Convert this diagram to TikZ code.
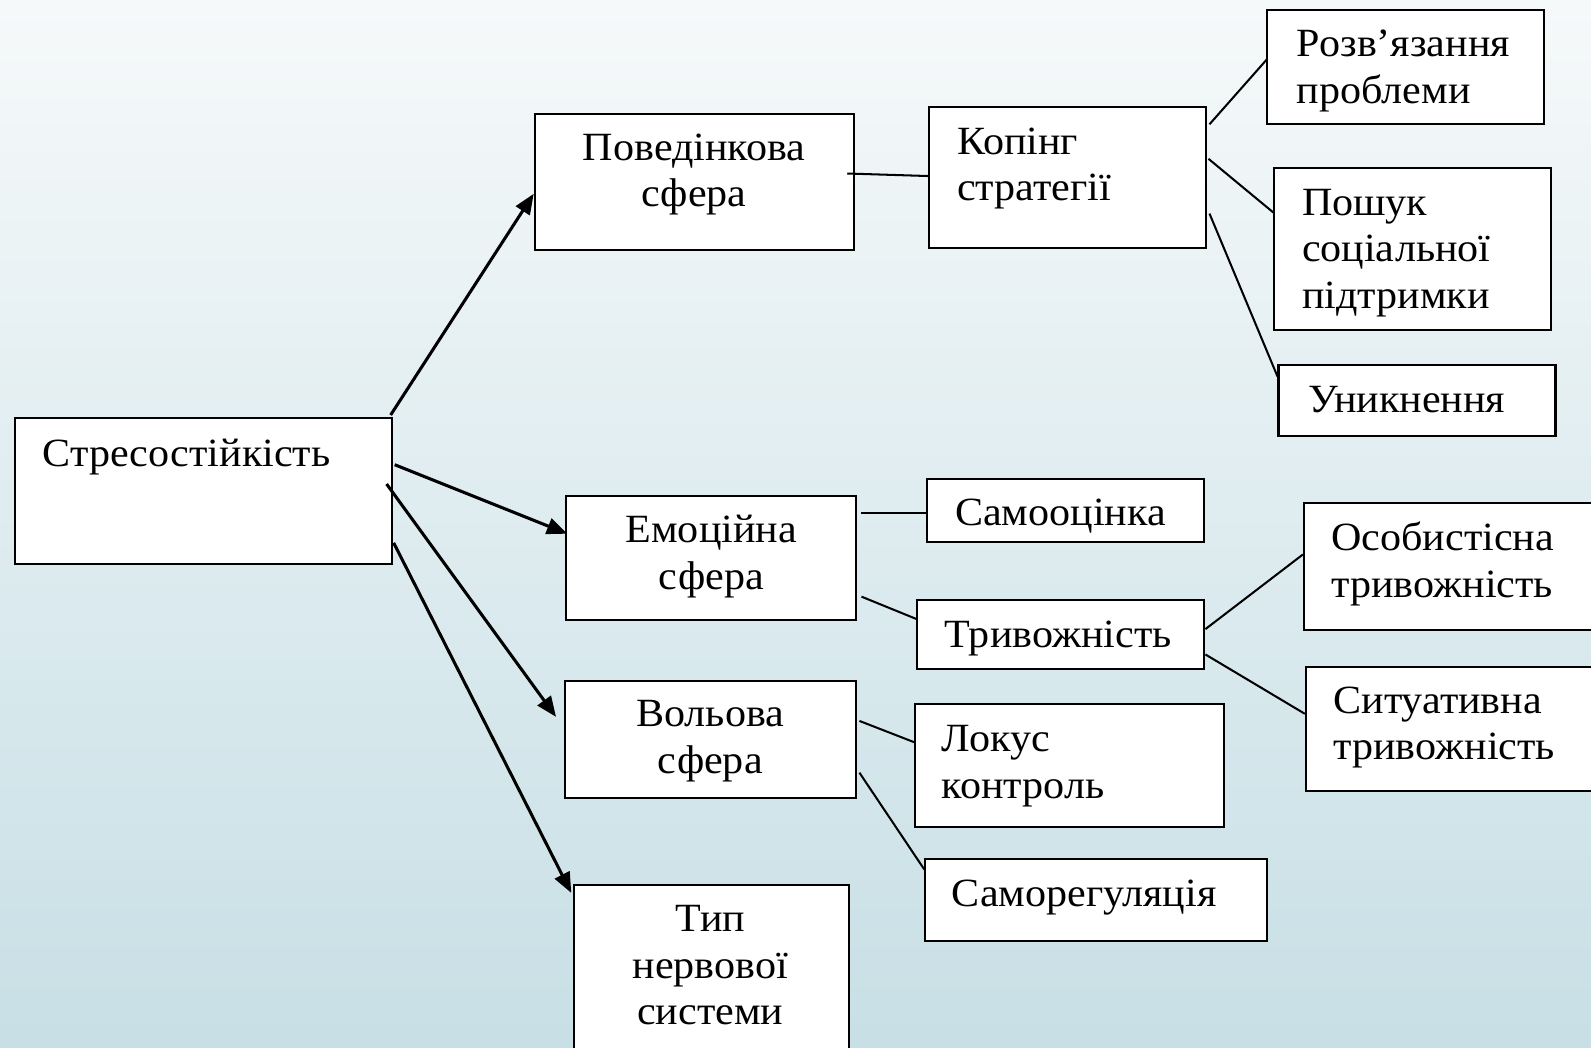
\documentclass[tikz,border=0pt]{standalone}
\usepackage{fontspec}
\setmainfont[FakeStretch=1.05]{Liberation Serif}
\usetikzlibrary{arrows.meta}
\newcommand{\txtblk}[2]{\begin{tabular}[t]{@{}#1@{}}#2\end{tabular}}
\definecolor{bgtop}{RGB}{246,249,250}
\definecolor{bgbot}{RGB}{199,223,229}
\begin{document}
\begin{tikzpicture}[x=1pt,y=-1pt,
 box/.style={draw=black, line width=2pt, fill=white, rectangle, inner sep=0pt},
 txt/.style={inner sep=0pt, font=\fontsize{39.5}{46}\selectfont},
 arr/.style={line width=3pt, -{Triangle[length=20pt,width=16pt]}},
 ln/.style={line width=2pt}]
\shade[top color=bgtop, bottom color=bgbot] (0,0) rectangle (1568,1032);
\useasboundingbox (0,0) rectangle (1568,1032);
\clip (0,0) rectangle (1568,1032);

% boxes
\node[box, minimum width=371pt, minimum height=144pt] (S) at (200.5,484) {};
\node[box, minimum width=315pt, minimum height=134pt] (B) at (684.5,179) {};
\node[box, minimum width=273pt, minimum height=139pt] (K) at (1052.5,174.5) {};
\node[box, minimum width=273pt, minimum height=112pt] (R) at (1385.5,66) {};
\node[box, minimum width=273pt, minimum height=159pt] (P) at (1392.5,245.5) {};
\node[box, minimum width=273pt, minimum height=70pt] (U) at (1396.5,395) {};
\node[box, minimum width=286pt, minimum height=122pt] (E) at (701,550) {};
\node[box, minimum width=273pt, minimum height=62pt] (Sam) at (1050.5,503) {};
\node[box, minimum width=283pt, minimum height=68pt] (T) at (1045.5,625) {};
\node[box, minimum width=305pt, minimum height=125pt] (O) at (1437.5,558.5) {};
\node[box, minimum width=303pt, minimum height=123pt] (Si) at (1438.5,718.5) {};
\node[box, minimum width=287pt, minimum height=115pt] (V) at (700.5,728.5) {};
\node[box, minimum width=304pt, minimum height=121pt] (L) at (1054,754.5) {};
\node[box, minimum width=337pt, minimum height=80pt] (SR) at (1080.5,887) {};
\node[box, minimum width=271pt, minimum height=178pt] (Tip) at (701.5,961) {};

% texts
\node[txt, anchor=base west] (tS) at (42,460) {\txtblk{l}{Стресостійкість}};
\node[txt, anchor=base] (tB) at (684,158) {\txtblk{c}{Поведінкова\\сфера}};
\node[txt, anchor=base west] (tK) at (943,152) {\txtblk{l}{Копінг\\стратегії}};
\node[txt, anchor=base west] (tR) at (1278,56) {\txtblk{l}{Розв’язання\\проблеми}};
\node[txt, anchor=base west] (tP) at (1283,212) {\txtblk{l}{Пошук\\соціальної\\підтримки}};
\node[txt, anchor=base west] (tU) at (1289,407) {\txtblk{l}{Уникнення}};
\node[txt, anchor=base] (tE) at (701,535) {\txtblk{c}{Емоційна\\сфера}};
\node[txt, anchor=base west] (tSam) at (941,518) {\txtblk{l}{Самооцінка}};
\node[txt, anchor=base west] (tT) at (931,638) {\txtblk{l}{Тривожність}};
\node[txt, anchor=base west] (tO) at (1312,543) {\txtblk{l}{Особистісна\\тривожність}};
\node[txt, anchor=base west] (tSi) at (1314,703) {\txtblk{l}{Ситуативна\\тривожність}};
\node[txt, anchor=base] (tV) at (700,716) {\txtblk{c}{Вольова\\сфера}};
\node[txt, anchor=base west] (tL) at (928,741) {\txtblk{l}{Локус\\контроль}};
\node[txt, anchor=base west] (tSR) at (938,893) {\txtblk{l}{Саморегуляція}};
\node[txt, anchor=base] (tTip) at (700,918) {\txtblk{c}{Тип\\нервової\\системи}};

% arrows from S
\draw[arr] ([xshift=-2pt,yshift=2pt]S.north east) -- ([yshift=-12pt]B.west);
\draw[arr] ([xshift=2pt,yshift=26pt]S.east) -- ([xshift=2pt,yshift=24pt]E.west);
\draw[arr] ([xshift=-6pt,yshift=7pt]S.east) -- ([xshift=-8pt,yshift=22pt]V.west);
\draw[arr] ([xshift=1pt,yshift=-51pt]S.east) -- ([xshift=-2pt,yshift=-9pt]Tip.north west);

% plain lines
\draw[ln] ([xshift=-8pt,yshift=8pt]B.east) -- ([yshift=1pt]K.west);
\draw[ln] ([xshift=2pt,yshift=52pt]K.east) -- ([xshift=1pt,yshift=8pt]R.west);
\draw[ln] ([xshift=1pt,yshift=18pt]K.east) -- ([yshift=36pt]P.west);
\draw[ln] ([xshift=2pt,yshift=-36pt]K.east) -- ([yshift=24pt]U.west);
\draw[ln] ([xshift=4pt,yshift=44pt]E.east) -- ([yshift=-3pt]Sam.west);
\draw[ln] ([xshift=4pt,yshift=-38pt]E.east) -- ([yshift=15pt]T.west);
\draw[ln] ([yshift=5pt]T.east) -- ([yshift=12pt]O.west);
\draw[ln] ([yshift=-20pt]T.east) -- ([yshift=15pt]Si.west);
\draw[ln] ([xshift=2pt,yshift=18pt]V.east) -- ([yshift=23pt]L.west);
\draw[ln] ([xshift=2pt,yshift=-33pt]V.east) -- ([yshift=30pt]SR.west);
\end{tikzpicture}
\end{document}
